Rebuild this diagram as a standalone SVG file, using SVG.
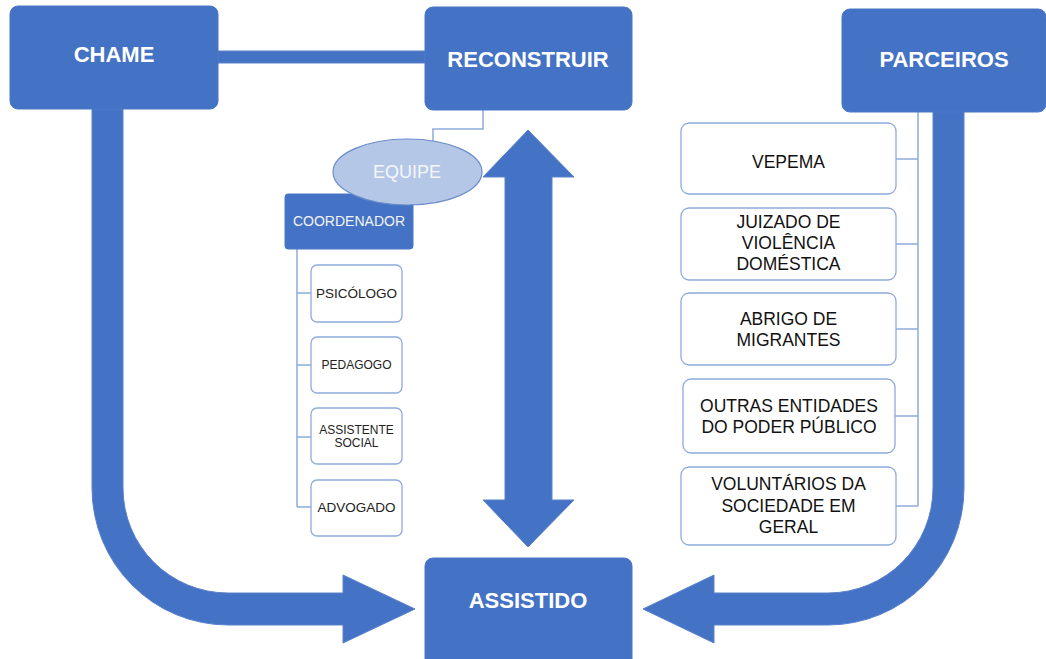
<svg xmlns="http://www.w3.org/2000/svg" width="1046" height="659" viewBox="0 0 1046 659">
<style>
.big{fill:#4472c4;stroke:#4a76c5;stroke-width:1}
.bigt{font-family:"Liberation Sans",Arial,sans-serif;font-weight:bold;font-size:22px;fill:#ffffff;text-anchor:middle}
.arrow{fill:#4472c4;stroke:#5a82cb;stroke-width:1}
.thin{fill:none;stroke:#8faadc;stroke-width:1.5}
.wbox{fill:#ffffff;stroke:#8faadc;stroke-width:1.3}
.pt{font-family:"Liberation Sans",Arial,sans-serif;font-size:17.5px;fill:#111111;text-anchor:middle}
.st{font-family:"Liberation Sans",Arial,sans-serif;fill:#222222;text-anchor:middle}
</style>
<g id="connectors">
<rect class="arrow" x="218" y="51" width="207" height="12"/>
<path class="arrow" d="M92 109 L92 488 A136 137 0 0 0 228 625 L343 625 L343 643 L415 609 L343 575 L343 593 L228 593 A105 105 0 0 1 123 488 L123 109 Z"/>
<path class="arrow" d="M964 109 L964 488 A136 137 0 0 1 828 625 L714 625 L714 643 L643 609 L714 575 L714 593 L828 593 A105 105 0 0 0 933 488 L933 109 Z"/>
<path class="arrow" d="M528 130 L574 177 L552 177 L552 500 L574 500 L528 547 L483 500 L505 500 L505 177 L483 177 Z"/>
<path class="thin" d="M483 110 L483 129 L433 129 L433 142"/>
<path class="thin" d="M297 249 L297 507 M297 293 L311 293 M297 365 L311 365 M297 437 L311 437 M297 507 L311 507"/>
<path class="thin" d="M918 112 L918 506 M896 159 L918 159 M896 244 L918 244 M896 329 L918 329 M895 416 L918 416 M896 506 L918 506"/>
</g>
<g id="chame">
<rect class="big" x="10" y="6" width="208" height="103" rx="8"/>
<text class="bigt" x="114" y="62">CHAME</text>
</g>
<g id="reconstruir">
<rect class="big" x="425" y="7" width="207" height="103" rx="8"/>
<text class="bigt" x="528" y="67">RECONSTRUIR</text>
</g>
<g id="parceiros">
<rect class="big" x="842" y="9" width="204" height="103" rx="8"/>
<text class="bigt" x="944" y="67">PARCEIROS</text>
</g>
<g id="assistido">
<rect class="big" x="425" y="558" width="207" height="110" rx="8"/>
<text class="bigt" x="528" y="608">ASSISTIDO</text>
</g>
<g id="coordenador">
<rect class="big" x="285" y="194" width="128" height="55" rx="3"/>
<text x="349" y="226" font-family="Liberation Sans, Arial, sans-serif" font-size="14" fill="#f2f2f2" text-anchor="middle">COORDENADOR</text>
</g>
<g id="equipe">
<ellipse cx="407.5" cy="172" rx="74.5" ry="33" fill="#b4c7e7" stroke="#6a8cc8" stroke-width="1.2"/>
<text x="407" y="178" font-family="Liberation Sans, Arial, sans-serif" font-size="18" fill="#f4f6fb" text-anchor="middle">EQUIPE</text>
</g>
<g id="psicologo">
<rect class="wbox" x="311" y="265" width="91" height="57" rx="6"/>
<text class="st" x="356.5" y="298" font-size="13.5">PSICÓLOGO</text>
</g>
<g id="pedagogo">
<rect class="wbox" x="311" y="337" width="91" height="56" rx="6"/>
<text class="st" x="356.5" y="369" font-size="12">PEDAGOGO</text>
</g>
<g id="assistente-social">
<rect class="wbox" x="311" y="408" width="91" height="56" rx="6"/>
<text class="st" x="356.5" y="434" font-size="12">ASSISTENTE</text>
<text class="st" x="356.5" y="447" font-size="12">SOCIAL</text>
</g>
<g id="advogado">
<rect class="wbox" x="311" y="480" width="91" height="56" rx="6"/>
<text class="st" x="356.5" y="512" font-size="13.5">ADVOGADO</text>
</g>
<g id="vepema">
<rect class="wbox" x="681" y="123" width="215" height="71" rx="8"/>
<text class="pt" x="788.5" y="168">VEPEMA</text>
</g>
<g id="juizado">
<rect class="wbox" x="681" y="208" width="215" height="72" rx="8"/>
<text class="pt" x="788.5" y="228">JUIZADO DE</text>
<text class="pt" x="788.5" y="249">VIOLÊNCIA</text>
<text class="pt" x="788.5" y="270">DOMÉSTICA</text>
</g>
<g id="abrigo">
<rect class="wbox" x="681" y="293" width="215" height="72" rx="8"/>
<text class="pt" x="788.5" y="325">ABRIGO DE</text>
<text class="pt" x="788.5" y="346">MIGRANTES</text>
</g>
<g id="outras">
<rect class="wbox" x="683" y="379" width="212" height="74" rx="8"/>
<text class="pt" x="789" y="412">OUTRAS ENTIDADES</text>
<text class="pt" x="789" y="433">DO PODER PÚBLICO</text>
</g>
<g id="voluntarios">
<rect class="wbox" x="681" y="467" width="215" height="78" rx="8"/>
<text class="pt" x="788.5" y="490">VOLUNTÁRIOS DA</text>
<text class="pt" x="788.5" y="512">SOCIEDADE EM</text>
<text class="pt" x="788.5" y="533">GERAL</text>
</g>
</svg>
